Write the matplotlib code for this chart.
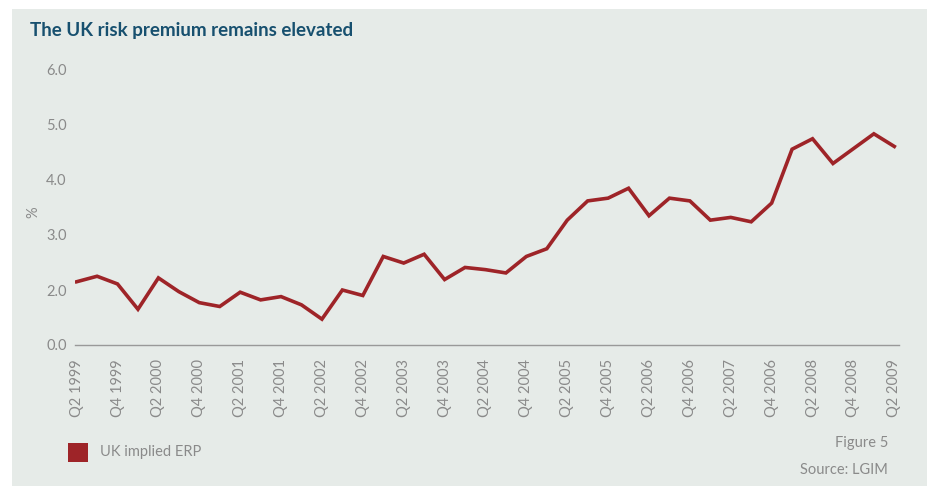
import matplotlib.pyplot as plt
import matplotlib.patches as mpatches

# UK implied equity risk premium, quarterly Q2 1999 - Q2 2009 (%)
erp = [
    2.15, 2.25, 2.11, 1.65, 2.22, 1.97, 1.77, 1.70, 1.96, 1.82,
    1.88, 1.73, 1.47, 2.00, 1.90, 2.61, 2.49, 2.65, 2.19, 2.41,
    2.37, 2.31, 2.61, 2.75, 3.27, 3.62, 3.67, 3.85, 3.35, 3.67,
    3.62, 3.27, 3.32, 3.24, 3.58, 4.56, 4.75, 4.30, 4.57, 4.84,
    4.61,
]
quarter_labels = [
    "Q2 1999", "Q4 1999", "Q2 2000", "Q4 2000", "Q2 2001", "Q4 2001",
    "Q2 2002", "Q4 2002", "Q2 2003", "Q4 2003", "Q2 2004", "Q4 2004",
    "Q2 2005", "Q4 2005", "Q2 2006", "Q4 2006", "Q2 2007", "Q4 2006",
    "Q2 2008", "Q4 2008", "Q2 2009",
]
y_ticks = [1, 2, 3, 4, 5, 6]
y_tick_labels = ["0.0", "2.0", "3.0", "4.0", "5.0", "6.0"]

W, H = 928, 486
panel = "#e6ebe8"
line_red = "#9e2428"
grey_txt = "#8a8a8a"
title_blue = "#17506f"

plt.rcParams["font.family"] = ["Lato", "DejaVu Sans"]

fig = plt.figure(figsize=(W / 100, H / 100), dpi=100)
fig.patch.set_facecolor("white")
fig.add_artist(mpatches.Rectangle((12 / W, 0), 1 - 12 / W, 1 - 9 / H,
                                  transform=fig.transFigure,
                                  facecolor=panel, edgecolor="none", zorder=0))

ax = fig.add_axes([75 / W, 141 / H, 824 / W, 275 / H])
ax.set_facecolor("none")

x = list(range(len(erp)))
ax.plot(x, erp, color=line_red, lw=2.6, solid_joinstyle="miter")

ax.set_xlim(-0.08, 40.23)
ax.set_ylim(1, 6)
ax.set_xticks(range(0, len(erp), 2))
ax.set_xticklabels(quarter_labels, rotation=90, color=grey_txt, fontsize=10.5)
ax.set_yticks(y_ticks)
ax.set_yticklabels(y_tick_labels, color=grey_txt, fontsize=10.5)
ax.tick_params(axis="both", length=0)
ax.tick_params(axis="x", pad=10)
ax.tick_params(axis="y", pad=6)

for side in ["top", "right", "left"]:
    ax.spines[side].set_visible(False)
ax.spines["bottom"].set_color("#999999")
ax.spines["bottom"].set_linewidth(1)

fig.text(33 / W, 1 - 212 / H, "%", rotation=90, color=grey_txt,
         fontsize=10.5, ha="center", va="center")

fig.text(30 / W, 1 - 30 / H, "The UK risk premium remains elevated",
         color=title_blue, fontsize=13.5, fontweight="bold",
         ha="left", va="center")

# legend
fig.add_artist(mpatches.Rectangle((68 / W, 1 - 462 / H), 20 / W, 19 / H,
                                  transform=fig.transFigure,
                                  facecolor=line_red, edgecolor="none"))
fig.text(100 / W, 1 - 452 / H, "UK implied ERP", color=grey_txt,
         fontsize=10.5, ha="left", va="center")

fig.text(888 / W, 1 - 443 / H, "Figure 5", color=grey_txt,
         fontsize=10.5, ha="right", va="center")
fig.text(888 / W, 1 - 470 / H, "Source: LGIM", color=grey_txt,
         fontsize=10.5, ha="right", va="center")

fig.savefig("out.png", dpi=100, facecolor=fig.get_facecolor())
